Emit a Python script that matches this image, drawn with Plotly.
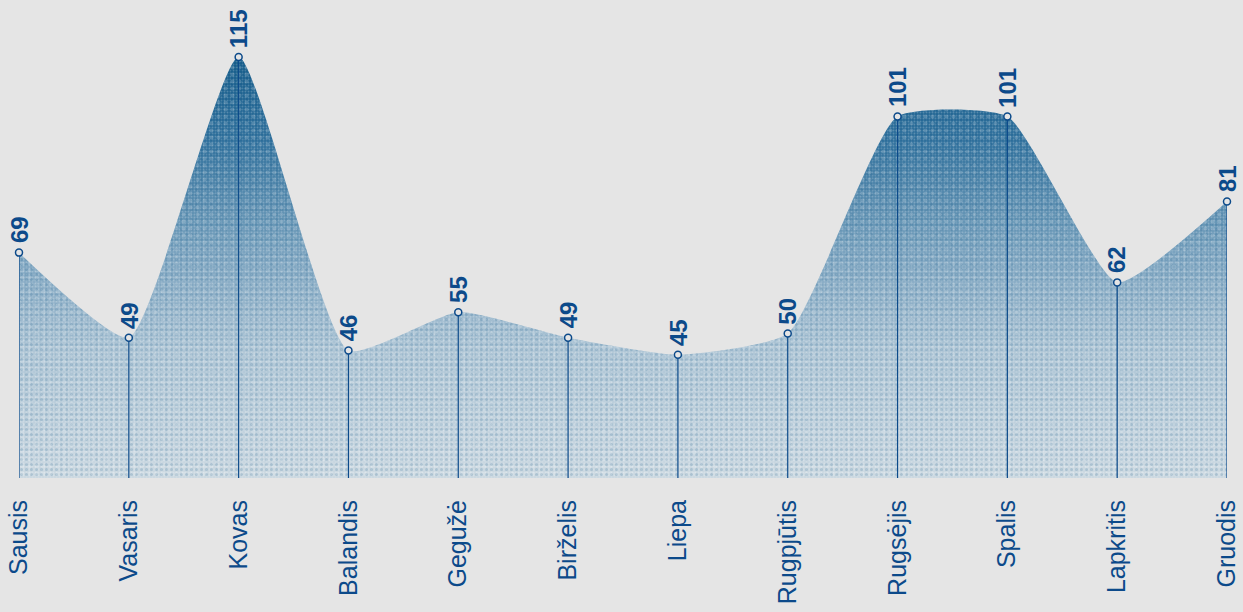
import plotly.graph_objects as go

# --- data ---
MONTHS = ["Sausis", "Vasaris", "Kovas", "Balandis", "Gegužė", "Birželis",
          "Liepa", "Rugpjūtis", "Rugsėjis", "Spalis", "Lapkritis", "Gruodis"]
VALUES = [69, 49, 115, 46, 55, 49, 45, 50, 101, 101, 62, 81]

BG = "#e5e5e5"
BLUE = "#0c4a8a"
FONT = "Liberation Sans, Arial, sans-serif"
Y_MIN = 16  # bottom of the axis
SMOOTH = 0.5

x_idx = list(range(len(MONTHS)))

fig = go.Figure()

# area with vertical gradient (dark at the top)
fig.add_trace(go.Scatter(
    x=x_idx, y=VALUES, mode="lines", line=dict(width=0, shape="spline", smoothing=SMOOTH),
    fill="tozeroy",
    fillgradient=dict(type="vertical", start=Y_MIN, stop=max(VALUES),
                      colorscale=[[0, "#cbd8e1"], [0.3, "#aec5d5"], [0.55, "#76a0bd"],
                                  [0.8, "#2f709c"], [1, "#125a88"]]),
    hoverinfo="skip", showlegend=False))

# grain-ish texture on top of the gradient
for sz, col, op, sol in [(3, "#ffffff", 0.22, 0.3), (5, "#0f5584", 0.18, 0.3), (7, "#ffffff", 0.18, 0.25)]:
    fig.add_trace(go.Scatter(
        x=x_idx, y=VALUES, mode="lines", line=dict(width=0, shape="spline", smoothing=SMOOTH),
        fill="tozeroy", fillcolor="rgba(0,0,0,0)",
        fillpattern=dict(shape=".", size=sz, solidity=sol, fgcolor=col, fgopacity=op),
        hoverinfo="skip", showlegend=False))

# drop lines from baseline to each point
line_x, line_y = [], []
for i, v in zip(x_idx, VALUES):
    line_x += [i, i, None]
    line_y += [Y_MIN, v, None]
fig.add_trace(go.Scatter(x=line_x, y=line_y, mode="lines",
                         line=dict(color=BLUE, width=1.2),
                         hoverinfo="skip", showlegend=False, cliponaxis=False))

# markers
fig.add_trace(go.Scatter(x=x_idx, y=VALUES, mode="markers",
                         marker=dict(size=7, color=BG, line=dict(color=BLUE, width=1.5)),
                         showlegend=False, cliponaxis=False))

# rotated value labels
for i, v in zip(x_idx, VALUES):
    fig.add_annotation(x=i, y=v, text=str(v), textangle=-90, showarrow=False,
                       yanchor="bottom", xanchor="center", yshift=7,
                       font=dict(family=FONT, size=24, color=BLUE, weight="bold"))

fig.update_layout(
    width=1243, height=612,
    paper_bgcolor=BG, plot_bgcolor=BG,
    margin=dict(l=19, r=16, t=57, b=134),
    font=dict(family=FONT, color=BLUE),
    xaxis=dict(range=[0, len(MONTHS) - 1], tickvals=x_idx, ticktext=MONTHS,
               tickangle=-90, tickfont=dict(size=25, color=BLUE),
               ticks="outside", ticklen=11, tickcolor="rgba(0,0,0,0)",
               showgrid=False, zeroline=False, showline=False, fixedrange=True,
               automargin=False),
    yaxis=dict(range=[Y_MIN, max(VALUES)], visible=False, showgrid=False,
               zeroline=False, fixedrange=True, automargin=False),
)

fig.write_html("out.html", config={"displayModeBar": False},
               post_script="document.body.style.margin='0px';"
                           "document.body.style.background='#e5e5e5';")
